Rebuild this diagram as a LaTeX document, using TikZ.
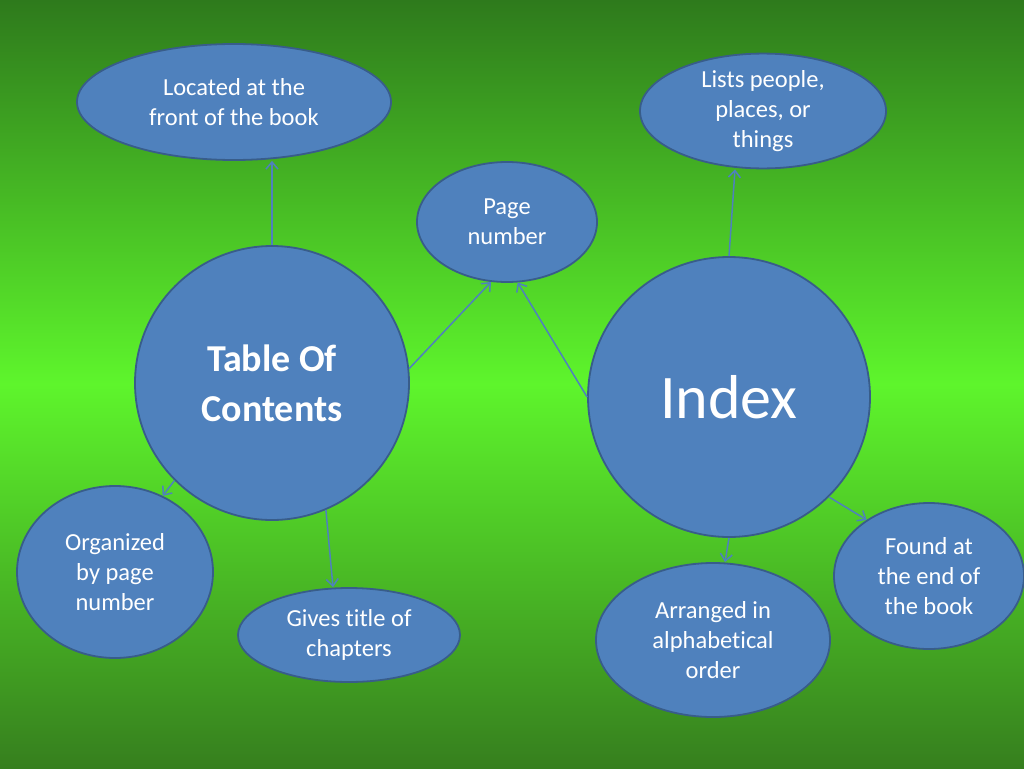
\documentclass[tikz,border=0pt]{standalone}
\usepackage{fontspec}
\setmainfont{Carlito}[Ligatures=NoCommon]
\usetikzlibrary{shapes.geometric,arrows.meta}
\definecolor{bfill}{HTML}{4F81BD}
\definecolor{bdraw}{HTML}{385D8A}
\definecolor{gtop}{HTML}{2E7A1C}
\definecolor{gmid}{HTML}{5EF52C}
\definecolor{gbot}{HTML}{367F1E}
\tikzset{
 bub/.style={ellipse,fill=bfill,draw=bdraw,line width=1.8pt,inner sep=0pt,text=white,align=center,font=\fontsize{24.5}{30}\selectfont},
 con/.style={draw=bfill,line width=1.5pt,-{Straight Barb[length=7pt,width=12pt]}}
}
\begin{document}
\begin{tikzpicture}[x=1pt,y=-1pt]
\shade[top color=gtop,bottom color=gmid,shading angle=0] (0,0) rectangle (1024,384);
\shade[top color=gmid,bottom color=gbot] (0,383.5) rectangle (1024,768);
\useasboundingbox (0,0) rectangle (1024,768);
\node[bub,minimum width=314pt,minimum height=116pt] (loc) at (234,102) {Located at the\\front of the book};
\node[bub,minimum width=246pt,minimum height=104pt] (lists) at (763,111) {Lists people,\\places, or\\things};
\node[bub,minimum width=180pt,minimum height=120pt] (page) at (507,222) {Page\\number};
\node[bub,minimum width=274pt,minimum height=274pt,font=\bfseries\fontsize{38}{50}\selectfont] (toc) at (272,383) {Table Of\\Contents};
\node[bub,minimum width=282pt,minimum height=280pt,font=\fontsize{62}{70}\selectfont] (idx) at (729,397) {Index};
\node[bub,minimum width=196pt,minimum height=172pt] (org) at (115,572) {Organized\\by page\\number};
\node[bub,minimum width=222pt,minimum height=94pt] (gives) at (349,635) {Gives title of\\chapters};
\node[bub,minimum width=234pt,minimum height=154pt] (arr) at (713,640) {Arranged in\\alphabetical\\order};
\node[bub,minimum width=190pt,minimum height=146pt] (found) at (929,576) {Found at\\the end of\\the book};
\draw[con] (toc.north) -- (loc.south -| toc.north);
\draw[con] (toc.6) -- (page.-105);
\draw[con] (idx.180) -- (page.-80);
\draw[con] (idx.north) -- ([xshift=-28pt]lists.south);
\draw[con] (toc.225) -- (org.58);
\draw[con] (toc.-67) -- ([xshift=-16pt]gives.north);
\draw[con] (idx.south) -- ([xshift=12pt]arr.north);
\draw[con] (idx.-45) -- (found.138);
\end{tikzpicture}
\end{document}
